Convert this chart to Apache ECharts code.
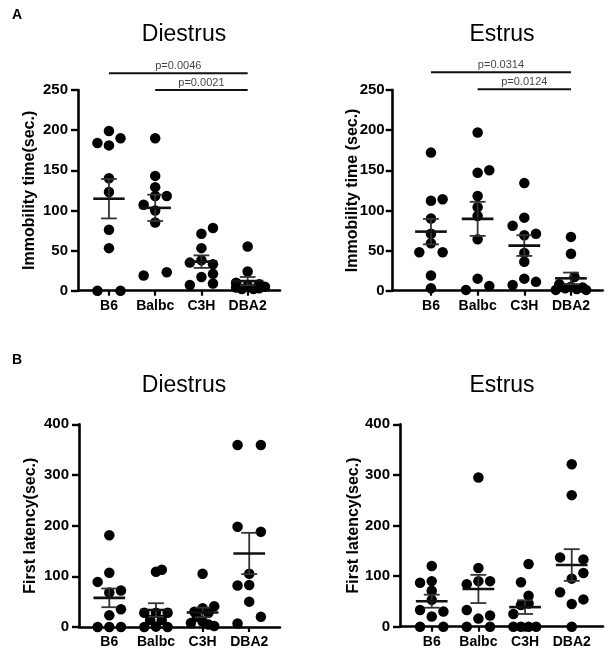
<!DOCTYPE html>
<html>
<head>
<meta charset="utf-8">
<script src="https://cdn.jsdelivr.net/npm/echarts@6/dist/echarts.min.js"></script>
<style>
html,body{margin:0;padding:0;background:#fff;}
#chart{width:608px;height:655px;}
</style>
</head>
<body>
<div id="chart"></div>
<script>
// ---------- data ----------
const categories = ['B6', 'Balbc', 'C3H', 'DBA2'];

const diestrusImmobility = [
  [0, 0, 184, 199, 181, 190, 140, 123, 76, 53],
  [190, 143, 129, 118, 118, 107, 100, 85, 19, 23],
  [78, 71, 53, 35, 38, 33, 17, 21, 9, 7],
  [55, 24, 10, 8, 6, 4, 3, 2, 2, 5]
];
const diestrusImmobilityJitter = [
  [-1, 1, -1, 0, 0, 1, 0, 0, 0, 0],
  [0, 0, 0, 0, 1, -1, 0, 0, -1, 1],
  [1, 0, 0, -1, 0, 1, 0, 1, 1, -1],
  [0, 0, -1, 1, 0, -1, 1, -0.5, 0.5, 1.5]
];

const estrusImmobility = [
  [172, 112, 114, 90, 71, 59, 48, 48, 19, 3],
  [197, 147, 150, 118, 104, 93, 64, 15, 1, 6],
  [134, 91, 81, 71, 69, 47, 36, 15, 11, 7],
  [67, 46, 17, 8, 5, 4, 3, 2, 1, 1]
];
const estrusImmobilityJitter = [
  [0, 0, 1, 0, 0, 0, -1, 1, 0, 0],
  [0, 0, 1, 0, 0, 0, 0, 0, -1, 1],
  [0, 0, -1, 1, 0, 0, 0, 0, 1, -1],
  [0, 0, 0.3, -1, 0, 1, -0.5, 0.5, -1.3, 1.3]
];

const diestrusLatency = [
  [181, 107, 89, 68, 72, 35, 23, 0, 0, 0],
  [109, 113, 28, 28, 28, 14, 14, 0, 1, 0],
  [105, 41, 37, 30, 28, 20, 11, 8, 5, 2],
  [359, 359, 198, 188, 105, 82, 83, 50, 20, 7]
];
const diestrusLatencyJitter = [
  [0, 0, -1, 0, 1, 1, 0, -1, 0, 1],
  [0, 0.5, -1, 0, 1, -0.5, 0.5, -1, 0, 1],
  [0, 1, 0, -0.7, 0.5, -0.5, 0, -1, 0.5, 1],
  [-1, 1, -1, 1, 0, -1, 0, 0, 1, -1]
];

const estrusLatency = [
  [120, 87, 90, 71, 53, 33, 20, 30, 0, 0],
  [295, 116, 84, 90, 90, 33, 16, 22, 0, 0],
  [124, 88, 61, 46, 43, 25, 0, 0, 0, 0],
  [321, 260, 137, 133, 106, 95, 68, 54, 45, 0]
];
const estrusLatencyJitter = [
  [0, -1, 0, 0, 0, -1, 0, 1, -1, 1],
  [0, 0, -1, 0, 1, -1, 0, 1, -1, 1],
  [0.3, -0.35, 0.3, 0.3, -0.35, -1, -1, -0.35, 0.3, 0.95],
  [0, 0, -1, 1, 1, 0, -1, 1, 0, 0]
];

const diestrusBracketFrom = [1, 2];
const diestrusBracketTo = [4, 4];
const diestrusBracketY = [271, 250];
const diestrusPValues = ['p=0.0046', 'p=0.0021'];

const estrusBracketFrom = [1, 2];
const estrusBracketTo = [4, 4];
const estrusBracketY = [272, 251];
const estrusPValues = ['p=0.0314', 'p=0.0124'];

// ---------- helpers ----------
const FONT = '"Liberation Sans", Arial, sans-serif';
const JITTER_UNIT = 0.25;

function points(values, jitter) {
  const out = [];
  values.forEach((arr, i) => arr.forEach((v, k) => out.push([i + 1 + jitter[i][k] * JITTER_UNIT, v])));
  return out;
}
function meanSem(values) {
  return values.map((arr, i) => {
    const n = arr.length;
    const m = arr.reduce((a, b) => a + b, 0) / n;
    const sd = Math.sqrt(arr.reduce((a, b) => a + (b - m) * (b - m), 0) / (n - 1));
    return [i + 1, m, sd / Math.sqrt(n)];
  });
}
function renderMean(params, api) {
  const x = api.value(0), m = api.value(1), s = api.value(2);
  const c = api.coord([x, m]);
  const t = api.coord([x, m + s]);
  const b = api.coord([x, Math.max(0, m - s)]);
  const half = api.size([0.34, 0])[0];
  const cap = api.size([0.17, 0])[0];
  const errStyle = { stroke: '#333', lineWidth: 1.8 };
  return {
    type: 'group',
    children: [
      { type: 'line', shape: { x1: c[0], y1: t[1], x2: c[0], y2: b[1] }, style: errStyle },
      { type: 'line', shape: { x1: c[0] - cap, y1: t[1], x2: c[0] + cap, y2: t[1] }, style: errStyle },
      { type: 'line', shape: { x1: c[0] - cap, y1: b[1], x2: c[0] + cap, y2: b[1] }, style: errStyle },
      { type: 'line', shape: { x1: c[0] - half, y1: c[1], x2: c[0] + half, y2: c[1] }, style: { stroke: '#111', lineWidth: 2.6 } }
    ]
  };
}

const panels = [
  { grid: { left: 78, top: 90, width: 202, height: 200.7 }, xmin: 0.33, xmax: 4.7, ymax: 250, yint: 50,
    name: 'Immobility time(sec.)', nameGap: 40, labelMargin: 10, values: diestrusImmobility, jitter: diestrusImmobilityJitter },
  { grid: { left: 392.7, top: 90, width: 210, height: 200.7 }, xmin: 0.18, xmax: 4.68, ymax: 250, yint: 50,
    name: 'Immobility time (sec.)', nameGap: 32, labelMargin: 8, values: estrusImmobility, jitter: estrusImmobilityJitter },
  { grid: { left: 79, top: 424.3, width: 201, height: 202.7 }, xmin: 0.35, xmax: 4.66, ymax: 400, yint: 100,
    name: 'First latency(sec.)', nameGap: 40, labelMargin: 10, values: diestrusLatency, jitter: diestrusLatencyJitter },
  { grid: { left: 400, top: 424.3, width: 203, height: 202.4 }, xmin: 0.32, xmax: 4.67, ymax: 400, yint: 100,
    name: 'First latency(sec.)', nameGap: 38, labelMargin: 10, values: estrusLatency, jitter: estrusLatencyJitter }
];

const brackets = [
  { panel: 0, from: diestrusBracketFrom, to: diestrusBracketTo, y: diestrusBracketY, labels: diestrusPValues },
  { panel: 1, from: estrusBracketFrom, to: estrusBracketTo, y: estrusBracketY, labels: estrusPValues }
];

const grids = [], xAxes = [], yAxes = [], series = [];

panels.forEach((p, idx) => {
  grids.push(Object.assign({ containLabel: false, outerBoundsMode: 'none' }, p.grid));
  xAxes.push({
    gridIndex: idx, type: 'value', min: p.xmin, max: p.xmax,
    splitLine: { show: false },
    axisLine: { show: true, onZero: false, lineStyle: { color: '#000', width: 2.6 } },
    axisTick: { show: true, customValues: [1, 2, 3, 4], length: 5, lineStyle: { color: '#000', width: 2.2 } },
    axisLabel: {
      customValues: [1, 2, 3, 4], margin: 8, color: '#000', fontFamily: FONT, fontWeight: 'bold', fontSize: 14,
      formatter: v => categories[Math.round(v) - 1] || ''
    }
  });
  yAxes.push({
    gridIndex: idx, type: 'value', min: 0, max: p.ymax, interval: p.yint,
    name: p.name, nameLocation: 'middle', nameGap: p.nameGap, nameMoveOverlap: false,
    nameTextStyle: { color: '#000', fontFamily: FONT, fontWeight: 'bold', fontSize: 16 },
    splitLine: { show: false },
    axisLine: { show: true, lineStyle: { color: '#000', width: 2.6 } },
    axisTick: { show: true, length: 7, lineStyle: { color: '#000', width: 2.4 } },
    axisLabel: { margin: p.labelMargin, color: '#000', fontFamily: FONT, fontWeight: 'bold', fontSize: 15 }
  });
  series.push({
    type: 'scatter', xAxisIndex: idx, yAxisIndex: idx, symbol: 'circle', symbolSize: 10.5,
    itemStyle: { color: '#000', opacity: 1 }, data: points(p.values, p.jitter), z: 2, clip: false
  });
  series.push({
    type: 'custom', xAxisIndex: idx, yAxisIndex: idx, renderItem: renderMean,
    data: meanSem(p.values), z: 3, clip: false
  });
});

// overlay grids for significance brackets (same x scale, y extended to 300 with same px/unit)
brackets.forEach((br) => {
  const p = panels[br.panel];
  const pxPerUnit = p.grid.height / p.ymax;
  const h = 300 * pxPerUnit;
  const gi = grids.length;
  grids.push({ left: p.grid.left, width: p.grid.width, top: p.grid.top + p.grid.height - h, height: h, containLabel: false, outerBoundsMode: 'none' });
  xAxes.push({ gridIndex: gi, type: 'value', min: p.xmin, max: p.xmax, show: false });
  yAxes.push({ gridIndex: gi, type: 'value', min: 0, max: 300, show: false });
  br.y.forEach((yv, k) => {
    series.push({
      type: 'line', xAxisIndex: gi, yAxisIndex: gi, symbol: 'none', silent: true,
      lineStyle: { color: '#111', width: 2 },
      data: [[br.from[k], yv], [br.to[k], yv]]
    });
    series.push({
      type: 'scatter', xAxisIndex: gi, yAxisIndex: gi, symbolSize: 0, silent: true,
      label: { show: true, position: 'top', distance: 2, formatter: br.labels[k],
        color: '#111', fontFamily: FONT, fontSize: 11 },
      data: [[(br.from[k] + br.to[k]) / 2, yv]]
    });
  });
});

const titleStyle = { color: '#000', fontFamily: FONT, fontSize: 23, fontWeight: 'normal' };
const option = {
  backgroundColor: '#fff',
  animation: false,
  title: [
    { text: 'A', left: 7, top: 3, textStyle: { color: '#000', fontFamily: FONT, fontSize: 14, fontWeight: 'bold' } },
    { text: 'B', left: 7, top: 348, textStyle: { color: '#000', fontFamily: FONT, fontSize: 14, fontWeight: 'bold' } },
    { text: 'Diestrus', left: 179, top: 18, textAlign: 'center', textStyle: titleStyle },
    { text: 'Estrus', left: 497, top: 18, textAlign: 'center', textStyle: titleStyle },
    { text: 'Diestrus', left: 179, top: 369, textAlign: 'center', textStyle: titleStyle },
    { text: 'Estrus', left: 497, top: 369, textAlign: 'center', textStyle: titleStyle }
  ],
  grid: grids,
  xAxis: xAxes,
  yAxis: yAxes,
  series: series
};

const chart = echarts.init(document.getElementById('chart'), null, { renderer: 'canvas' });
chart.setOption(option);
</script>
</body>
</html>
